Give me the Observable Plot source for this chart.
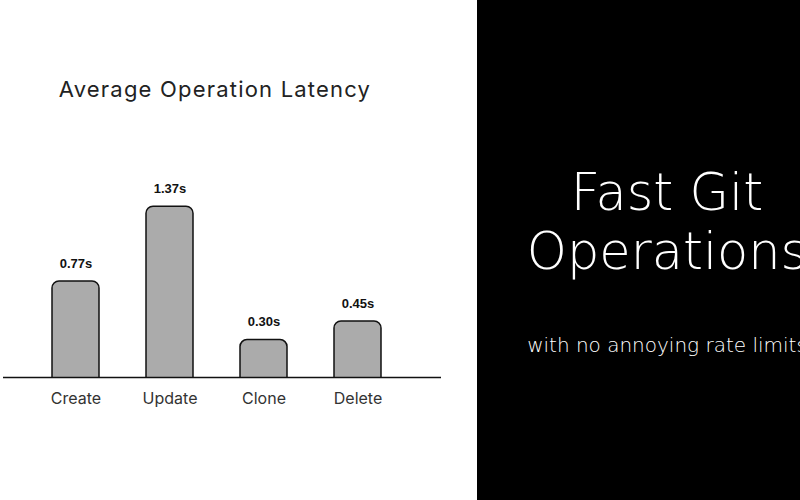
<!DOCTYPE html>
<html>
<head>
<meta charset="utf-8">
<script src="https://cdn.jsdelivr.net/npm/d3@7"></script>
<script src="https://cdn.jsdelivr.net/npm/@observablehq/plot@0.6"></script>
<style>
  html, body { margin: 0; padding: 0; background: #fff; overflow: hidden; }
  #wrap { position: relative; width: 800px; height: 500px; overflow: hidden; background: #fff; }
  #chart { position: absolute; left: 0; top: 0; }
  #title { position: absolute; left: 0; top: 76px; width: 430px; line-height: 26px; text-align: center;
           font-family: Inter, "Open Sans", sans-serif; font-size: 22px; font-weight: 400; color: #222; letter-spacing: 1.2px; }
  #panel { position: absolute; left: 477px; top: 0; width: 323px; height: 500px; background: #000; overflow: hidden; }
</style>
</head>
<body>
<div id="wrap">
  <div id="chart"></div>
  <div id="title">Average Operation Latency</div>
  <div id="panel">
    <svg width="323" height="500" style="position:absolute;left:0;top:0;overflow:hidden">
      <g fill="#fff" text-anchor="middle" font-family="'DejaVu Sans', sans-serif" font-weight="200">
        <text x="190" y="210" font-size="51">Fast Git</text>
        <text x="190" y="269" font-size="51">Operations</text>
        <text x="190" y="352" font-size="20">with no annoying rate limits</text>
      </g>
    </svg>
  </div>
</div>
<script>
const operations = ["Create", "Update", "Clone", "Delete"];
const latencies = [0.77, 1.37, 0.30, 0.45];
const valueLabels = ["0.77s", "1.37s", "0.30s", "0.45s"];

const data = operations.map((op, i) => ({op, value: latencies[i], label: valueLabels[i]}));

const chart = Plot.plot({
  width: 477,
  height: 500,
  marginLeft: 3,
  marginRight: 36,
  marginTop: 190,
  marginBottom: 123,
  style: {fontFamily: "Inter, 'Open Sans', sans-serif", fontSize: "16px", color: "#333", background: "transparent"},
  x: {domain: operations, paddingInner: 0.5, paddingOuter: 0.57, align: 0.45, label: null},
  y: {domain: [0, 1.5], axis: null},
  marks: [
    Plot.rectY(data, {x: "op", y1: -0.2, y2: "value", fill: "#ababab", stroke: "#111", strokeWidth: 1.5, rx: 7, clip: true}),
    Plot.ruleY([0], {stroke: "#111", strokeWidth: 1.5}),
    Plot.text(data, {x: "op", y: "value", text: "label", dy: -18, fontFamily: "'Liberation Sans', Arial, sans-serif",
                     fontWeight: "bold", fontSize: 13, fill: "#111"}),
    Plot.axisX({tickSize: 0, tickPadding: 15, fontSize: 16, fill: "#333", label: null})
  ]
});
document.getElementById("chart").appendChild(chart);
</script>
</body>
</html>
